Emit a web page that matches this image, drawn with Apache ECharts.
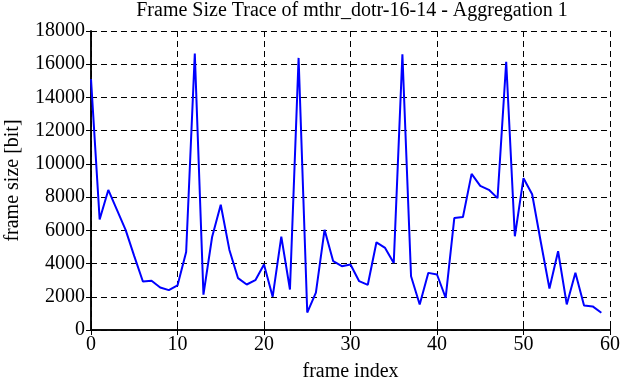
<!DOCTYPE html>
<html>
<head>
<meta charset="utf-8">
<script src="https://cdn.jsdelivr.net/npm/echarts@6/dist/echarts.min.js"></script>
<style>html,body{margin:0;padding:0;background:#fff}#c{width:621px;height:382px}</style>
</head>
<body>
<div id="c"></div>
<script>
const frameIndex = Array.from({length: 60}, (_, i) => i);
const frameSize = [15100, 6650, 8430, 7230, 6030, 4450, 2920, 2960, 2560, 2400,
  2680, 4700, 16650, 2130, 5600, 7540, 4820, 3120, 2740, 3000,
  3940, 2000, 5620, 2440, 16380, 1050, 2250, 6030, 4140, 3840,
  3940, 2940, 2720, 5280, 4940, 4040, 16600, 3240, 1540, 3440,
  3340, 1940, 6740, 6800, 9400, 8680, 8440, 7940, 16150, 5640,
  9140, 8170, 5300, 2500, 4740, 1540, 3440, 1480, 1420, 1040];
const titleText = 'Frame Size Trace of mthr_dotr-16-14 - Aggregation 1';
const xName = 'frame index';
const yName = 'frame size [bit]';

const FONT = 'Liberation Serif';
const chart = echarts.init(document.getElementById('c'));
const splitLine = {show: true, lineStyle: {color: '#000', width: 1, type: [6, 4]}};
const axisLine = {show: true, lineStyle: {color: '#000', width: 1.5}};
const tick = {show: true, inside: true, length: 5, lineStyle: {color: '#000', width: 1}};
const lbl = {color: '#000', fontFamily: FONT, fontSize: 20, formatter: v => String(v)};
chart.setOption({
  animation: false,
  title: {
    text: titleText, left: 352, top: 1, padding: 0, textAlign: 'center',
    textStyle: {fontFamily: FONT, fontSize: 20, fontWeight: 'normal', color: '#000'}
  },
  grid: {left: 91, right: 11, top: 31, bottom: 52, containLabel: false, outerBoundsMode: 'none'},
  xAxis: [{
    type: 'value', min: 0, max: 60, interval: 10,
    name: xName, nameLocation: 'middle', nameGap: 32,
    nameTextStyle: {fontFamily: FONT, fontSize: 20, color: '#000'},
    axisLine, axisTick: tick, splitLine,
    axisLabel: Object.assign({margin: 5}, lbl)
  }, {
    type: 'value', position: 'top', min: 0, max: 60, interval: 10,
    axisLine, axisTick: tick, splitLine: {show: false}, axisLabel: {show: false}
  }],
  yAxis: [{
    type: 'value', min: 0, max: 18000, interval: 2000,
    name: yName, nameLocation: 'middle', nameGap: 68,
    nameTextStyle: {fontFamily: FONT, fontSize: 20, color: '#000'},
    axisLine, axisTick: tick, splitLine,
    axisLabel: Object.assign({margin: 6}, lbl)
  }, {
    type: 'value', position: 'right', min: 0, max: 18000, interval: 2000,
    axisLine, axisTick: tick, splitLine: {show: false}, axisLabel: {show: false}
  }],
  series: [{
    type: 'line',
    data: frameIndex.map((x, i) => [x, frameSize[i]]),
    showSymbol: false, symbol: 'none',
    lineStyle: {color: '#0000ff', width: 2},
    itemStyle: {color: '#0000ff'}
  }]
});
</script>
</body>
</html>
